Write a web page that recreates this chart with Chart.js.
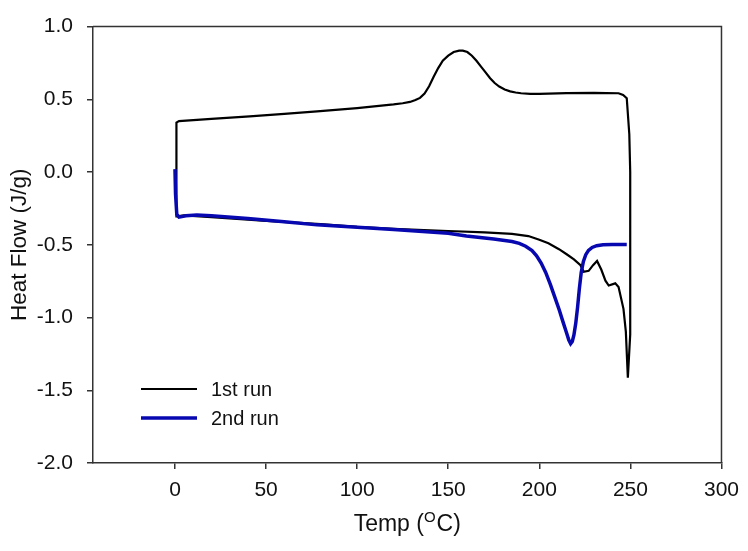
<!DOCTYPE html>
<html>
<head>
<meta charset="utf-8">
<script src="https://cdn.jsdelivr.net/npm/chart.js@4.4.1/dist/chart.umd.min.js"></script>
<style>
html,body{margin:0;padding:0;background:#fff;}
#wrap{position:relative;width:748px;height:551px;}
</style>
</head>
<body>
<div id="wrap"><canvas id="c" width="748" height="551"></canvas></div>
<script>
// ---- data ----
const xTickValues = [0, 50, 100, 150, 200, 250, 300];
const yTickValues = [1.0, 0.5, 0.0, -0.5, -1.0, -1.5, -2.0];
const seriesNames = ['1st run', '2nd run'];

// 1st run: closed loop (heating branch on top, cooling branch below)
const run1X = [0.8, 0.8, 2.2, 20, 41, 60, 78, 100, 120, 125, 129, 132, 134.5, 137, 139.5, 142, 144.5, 147, 150, 153, 156, 158, 160.5, 163, 165.5, 168, 170.5, 173, 175.5, 178, 181, 184, 187, 190, 195, 200, 215, 230, 243.5, 246, 248, 249.4, 249.9, 249.9,
  248.6, 247.5, 246.2, 243.5, 241.7, 238.1, 236.3, 234, 231.7, 229.5, 227.1, 224.4, 222.6, 219, 215, 210.8, 205, 200, 194, 185, 170, 150, 120, 100, 80, 50, 20, 5, 1, 0.8];
const run1Y = [-0.30, 0.34, 0.35, 0.365, 0.383, 0.40, 0.417, 0.44, 0.465, 0.473, 0.482, 0.495, 0.51, 0.54, 0.59, 0.655, 0.715, 0.765, 0.80, 0.825, 0.835, 0.835, 0.825, 0.80, 0.765, 0.725, 0.685, 0.645, 0.612, 0.588, 0.568, 0.555, 0.547, 0.542, 0.538, 0.537, 0.542, 0.545, 0.542, 0.53, 0.508, 0.26, 0.0, -1.117,
  -1.414, -1.097, -0.94, -0.79, -0.765, -0.78, -0.747, -0.67, -0.611, -0.64, -0.679, -0.686, -0.64, -0.60, -0.565, -0.53, -0.49, -0.465, -0.44, -0.425, -0.415, -0.405, -0.39, -0.377, -0.358, -0.336, -0.31, -0.298, -0.305, -0.30];

// 2nd run
const run2X = [0, 0.3, 1, 2.2, 6, 12, 20, 40, 60, 78, 100, 120, 140, 150, 160, 175, 185, 189, 192.5, 196, 198.5, 201, 203.5, 206, 208.5, 211, 213, 214.8, 216.2, 217.2, 218.1, 219, 220, 221, 222, 223, 224.2, 225.5, 227, 229, 231.5, 235, 240, 248];
const run2Y = [0.02, -0.15, -0.29, -0.31, -0.30, -0.295, -0.30, -0.32, -0.342, -0.363, -0.38, -0.395, -0.412, -0.42, -0.44, -0.46, -0.477, -0.49, -0.51, -0.54, -0.575, -0.625, -0.69, -0.77, -0.86, -0.95, -1.03, -1.10, -1.155, -1.18, -1.165, -1.12, -1.04, -0.93, -0.80, -0.69, -0.615, -0.568, -0.538, -0.518, -0.506, -0.500, -0.498, -0.498];

const xMin = -45, xMax = 300, yMin = -2, yMax = 1;

const toPts = (xs, ys) => xs.map((x, i) => ({x: x, y: ys[i]}));

const FONT = "'Liberation Sans', Arial, Helvetica, sans-serif";
const TXT = '#111111';
const AXC = '#333333';

const boxPlugin = {
  id: 'box',
  afterDraw(chart) {
    const {ctx, chartArea: a} = chart;
    ctx.save();
    ctx.strokeStyle = AXC;
    ctx.lineWidth = 1.5;
    ctx.beginPath();
    ctx.moveTo(a.left, a.top);
    ctx.lineTo(a.right, a.top);
    ctx.lineTo(a.right, a.bottom);
    ctx.stroke();

    // legend
    const ds = chart.data.datasets;
    const ly = [389, 418];
    ctx.font = '20px ' + FONT;
    ctx.textBaseline = 'middle';
    ctx.textAlign = 'left';
    ds.forEach((d, i) => {
      ctx.strokeStyle = d.borderColor;
      ctx.lineWidth = d.borderWidth;
      ctx.beginPath();
      ctx.moveTo(141, ly[i]);
      ctx.lineTo(197, ly[i]);
      ctx.stroke();
      ctx.fillStyle = TXT;
      ctx.fillText(d.label, 211, ly[i] + 1);
    });

    // axis titles
    ctx.fillStyle = TXT;
    const cx = (a.left + a.right) / 2;
    const t1 = 'Temp (', sup = 'O', t2 = 'C)';
    ctx.font = '23px ' + FONT;
    const w1 = ctx.measureText(t1).width, w3 = ctx.measureText(t2).width;
    ctx.font = '15px ' + FONT;
    const w2 = ctx.measureText(sup).width + 1;
    const total = w1 + w2 + w3;
    let x0 = cx - total / 2;
    const by = 531;
    ctx.textBaseline = 'alphabetic';
    ctx.font = '23px ' + FONT;
    ctx.fillText(t1, x0, by);
    ctx.font = '15px ' + FONT;
    ctx.fillText(sup, x0 + w1, by - 9);
    ctx.font = '23px ' + FONT;
    ctx.fillText(t2, x0 + w1 + w2, by);

    ctx.save();
    ctx.translate(26, (a.top + a.bottom) / 2);
    ctx.rotate(-Math.PI / 2);
    ctx.textAlign = 'center';
    ctx.textBaseline = 'alphabetic';
    ctx.font = '22.5px ' + FONT;
    ctx.fillText('Heat Flow (J/g)', 0, 0);
    ctx.restore();
    ctx.restore();
  }
};

new Chart(document.getElementById('c'), {
  type: 'scatter',
  data: {
    datasets: [
      {label: seriesNames[0], data: toPts(run1X, run1Y), showLine: true, borderColor: '#000000', borderWidth: 2.2, pointRadius: 0, tension: 0, order: 2},
      {label: seriesNames[1], data: toPts(run2X, run2Y), showLine: true, borderColor: '#0808b0', borderWidth: 3.5, pointRadius: 0, tension: 0, order: 1}
    ]
  },
  options: {
    responsive: false,
    animation: false,
    events: [],
    layout: {padding: {left: 0, right: 25, top: 21, bottom: 0}},
    plugins: {legend: {display: false}, tooltip: {enabled: false}},
    scales: {
      x: {
        type: 'linear', min: xMin, max: xMax,
        afterBuildTicks: s => { s.ticks = xTickValues.map(v => ({value: v})); },
        afterFit: s => { s.height = 88; },
        grid: {display: true, drawOnChartArea: false, drawTicks: true, tickLength: 6, color: AXC, lineWidth: 1.5},
        border: {display: true, color: AXC, width: 1.5},
        ticks: {color: TXT, font: {family: FONT, size: 21}, padding: 9, maxRotation: 0, autoSkip: false, callback: v => String(v)}
      },
      y: {
        type: 'linear', min: yMin, max: yMax,
        afterBuildTicks: s => { s.ticks = yTickValues.map(v => ({value: v})); },
        afterFit: s => { s.width = 93; },
        grid: {display: true, drawOnChartArea: false, drawTicks: true, tickLength: 6, color: AXC, lineWidth: 1.5},
        border: {display: true, color: AXC, width: 1.5},
        ticks: {color: TXT, font: {family: FONT, size: 21}, padding: 14, autoSkip: false, callback: v => v.toFixed(1)}
      }
    }
  },
  plugins: [boxPlugin]
});
</script>
</body>
</html>
